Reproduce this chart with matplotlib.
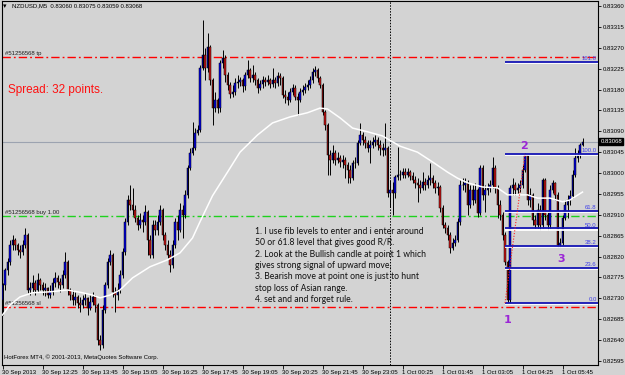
import matplotlib
matplotlib.use("Agg")
import matplotlib.pyplot as plt
import matplotlib.patheffects as pe
import numpy as np

# ---------------- data (prices in points, 1 point = 0.00001) ----------------
symbol_title = "NZDUSD,M5  0.83060 0.83075 0.83059 0.83068"
first_open_pts = 82726
last_open_pts = 83060

close_pts = [
    82759, 82791, 82808, 82845, 82856, 82845, 82834, 82830, 82845, 82867,
    82748, 82752, 82763, 82748, 82770, 82759, 82748, 82752, 82737, 82744,
    82763, 82774, 82765, 82759, 82780, 82808, 82748, 82737, 82726, 82733,
    82720, 82716, 82726, 82731, 82709, 82722, 82733, 82716, 82640, 82630,
    82705, 82759, 82808, 82823, 82744, 82737, 82748, 82780, 82830, 82895,
    82942, 82931, 82920, 82903, 82888, 82899, 82895, 82916, 82856, 82823,
    82888, 82877, 82895, 82920, 82867, 82845, 82823, 82802, 82845, 82895,
    82877, 82920, 82910, 82953, 83011, 83043, 83054, 83086, 83093, 83226,
    83254, 83226, 83272, 83201, 83140, 83157, 83140, 83237, 83248, 83211,
    83190, 83170, 83175, 83194, 83196, 83201, 83188, 83211, 83222, 83205,
    83211, 83201, 83183, 83192, 83201, 83196, 83201, 83192, 83201, 83194,
    83209, 83205, 83168, 83164, 83157, 83175, 83183, 83164, 83157, 83175,
    83179, 83186, 83190, 83201, 83218, 83222, 83205, 83190, 83132, 83104,
    83039, 83028, 83043, 83028, 83033, 83024, 83028, 83017, 83007, 82989,
    83022, 83022, 83065, 83082, 83071, 83065, 83054, 83061, 83067, 83071,
    83061, 83054, 83050, 83054, 82957, 82964, 82957, 82992, 82996, 82996,
    83002, 82996, 83002, 82994, 82985, 82979, 82974, 82968, 82981, 82974,
    82985, 82989, 82979, 82968, 82970, 82925, 82888, 82882, 82867, 82839,
    82849, 82856, 82895, 82974, 82974, 82979, 82931, 82964, 82942, 82964,
    82914, 83011, 82953, 82964, 82968, 82974, 83011, 82968, 82931, 82910,
    82867, 82808, 82726, 82968, 82974, 82964, 82968, 82974, 83007, 83039,
    82942, 82953, 82899, 82888, 82920, 82888, 82985, 82910, 82888, 82964,
    82979, 82953, 82845, 82849, 82903, 82931, 82942, 82951, 82996, 83033,
    83039, 83061, 83068]

high_pts = [
    82763, 82795, 82817, 82856, 82867, 82860, 82849, 82845, 82856, 82882,
    82871, 82765, 82780, 82770, 82785, 82774, 82765, 82763, 82755, 82759,
    82774, 82787, 82780, 82774, 82791, 82830, 82813, 82752, 82748, 82744,
    82737, 82733, 82737, 82742, 82733, 82737, 82744, 82737, 82720, 82651,
    82716, 82765, 82817, 82834, 82828, 82755, 82763, 82791, 82839, 82903,
    82953, 82974, 82968, 82931, 82910, 82914, 82910, 82931, 82920, 82867,
    82899, 82899, 82910, 82931, 82925, 82873, 82856, 82834, 82856, 82903,
    82910, 82936, 82931, 82964, 83017, 83054, 83110, 83097, 83104, 83233,
    83330, 83270, 83302, 83276, 83205, 83175, 83162, 83244, 83265, 83254,
    83218, 83196, 83190, 83205, 83211, 83207, 83205, 83218, 83244, 83226,
    83233, 83218, 83205, 83201, 83209, 83207, 83211, 83205, 83226, 83207,
    83218, 83216, 83209, 83179, 83175, 83183, 83192, 83190, 83173, 83183,
    83190, 83194, 83201, 83209, 83226, 83231, 83226, 83209, 83194, 83136,
    83108, 83050, 83061, 83050, 83045, 83039, 83039, 83035, 83024, 83017,
    83028, 83035, 83071, 83108, 83089, 83080, 83071, 83071, 83078, 83082,
    83078, 83071, 83065, 83108, 83058, 82985, 82981, 82996, 83056, 83007,
    83011, 83011, 83011, 83007, 83002, 82994, 82989, 82985, 83002, 82989,
    82996, 83022, 82996, 82985, 82981, 82974, 82931, 82895, 82888, 82873,
    82860, 82867, 82903, 82985, 82989, 82989, 82985, 82974, 82974, 82979,
    82968, 83017, 83017, 82974, 82979, 82985, 83035, 83017, 82974, 82942,
    82916, 82873, 82813, 82974, 82989, 82981, 82979, 82985, 83017, 83043,
    83039, 82968, 82957, 82910, 82936, 82931, 82989, 82989, 82916, 82974,
    82985, 82981, 82959, 82860, 82910, 82942, 82953, 82964, 83007, 83054,
    83050, 83065, 83075]

low_pts = [
    82694, 82748, 82780, 82802, 82834, 82834, 82823, 82817, 82823, 82839,
    82742, 82737, 82744, 82737, 82744, 82748, 82737, 82735, 82731, 82731,
    82737, 82755, 82752, 82744, 82752, 82774, 82737, 82726, 82716, 82716,
    82709, 82701, 82709, 82716, 82694, 82705, 82716, 82701, 82630, 82619,
    82623, 82698, 82752, 82802, 82733, 82701, 82726, 82742, 82774, 82823,
    82888, 82920, 82910, 82895, 82877, 82882, 82873, 82888, 82823, 82817,
    82817, 82867, 82867, 82888, 82856, 82834, 82817, 82787, 82795, 82839,
    82856, 82873, 82860, 82903, 82946, 83007, 83039, 83050, 83082, 83089,
    83222, 83201, 83218, 83190, 83104, 83132, 83130, 83132, 83226, 83196,
    83179, 83162, 83164, 83168, 83183, 83188, 83175, 83179, 83205, 83196,
    83196, 83190, 83173, 83179, 83183, 83188, 83190, 83183, 83186, 83183,
    83188, 83190, 83162, 83151, 83147, 83153, 83168, 83157, 83125, 83153,
    83168, 83173, 83179, 83183, 83194, 83209, 83196, 83183, 83125, 83093,
    82996, 82996, 83022, 83017, 83022, 83013, 83011, 82989, 82979, 82979,
    82985, 83011, 83017, 83061, 83061, 83054, 83045, 83022, 83054, 83058,
    83050, 83039, 83037, 83039, 82948, 82927, 82910, 82946, 82985, 82985,
    82989, 82989, 82992, 82985, 82979, 82968, 82938, 82957, 82964, 82964,
    82968, 82974, 82968, 82957, 82953, 82916, 82882, 82871, 82856, 82828,
    82834, 82843, 82851, 82888, 82964, 82959, 82910, 82925, 82931, 82936,
    82905, 82910, 82942, 82916, 82953, 82959, 82968, 82957, 82903, 82899,
    82856, 82802, 82720, 82720, 82953, 82953, 82957, 82959, 82968, 83002,
    82931, 82927, 82888, 82882, 82882, 82877, 82882, 82899, 82877, 82882,
    82957, 82942, 82841, 82841, 82845, 82899, 82903, 82931, 82946, 82992,
    83024, 83032, 83059]

# moving average (white line), read at selected bars
ma_bars = [0, 3, 7, 12, 19, 26, 32, 36, 39, 43, 47, 52, 59, 66, 71, 76, 79, 84,
           90, 95, 102, 108, 115, 122, 127, 130, 135, 140, 146, 152, 159, 166,
           172, 178, 182, 186, 192, 198, 202, 206, 210, 214, 219, 224, 227, 232]
ma_pts = [82694, 82716, 82733, 82742, 82744, 82748, 82742, 82737, 82731, 82737,
          82748, 82774, 82798, 82813, 82828, 82860, 82895, 82951, 83002, 83045,
          83082, 83108, 83121, 83130, 83140, 83138, 83119, 83097, 83089, 83080,
          83058, 83045, 83024, 83002, 82989, 82979, 82970, 82968, 82953, 82953,
          82953, 82946, 82946, 82938, 82942, 82959]

time_tick_bars = [0, 16, 32, 48, 64, 80, 96, 112, 128, 144, 160, 176, 192, 208, 224]
time_tick_labels = ["30 Sep 2013", "30 Sep 12:25", "30 Sep 13:45", "30 Sep 15:05",
                    "30 Sep 16:25", "30 Sep 17:45", "30 Sep 19:05", "30 Sep 20:25",
                    "30 Sep 21:45", "30 Sep 23:05", "1 Oct 00:25", "1 Oct 01:45",
                    "1 Oct 03:05", "1 Oct 04:25", "1 Oct 05:45"]
day_separator_bar = 155          # 1 Oct 00:00
price_ticks = [0.82595 + 0.00045 * k for k in range(18)]

order_tp = 0.83250
order_buy = 0.82907
order_sl = 0.82711
fib_low = 0.82720
fib_high = 0.83041
fib_start_bar = 201
fib_end_bar = 209
fib_levels = [0.0, 23.6, 38.2, 50.0, 61.8, 100.0, 161.8]
point_labels = ["1", "2", "3"]
point_bars = [202.2, 208.6, 223.4]
point_prices = [0.82683, 0.83058, 0.82815]

note_text = ("1. I use fib levels to enter and i enter around\n"
             "50 or 61.8 level that gives good R/R.\n"
             "2. Look at the Bullish candle at point 1 which\n"
             "gives strong signal of upward move.\n"
             "3. Bearish move at point one is just to hunt\n"
             "stop loss of Asian range.\n"
             "4. set and and forget rule.")

# ---------------- derived ----------------
close = np.array(close_pts) / 1e5
high = np.array(high_pts) / 1e5
low = np.array(low_pts) / 1e5
opens = np.concatenate([[first_open_pts / 1e5], close[:-1]])
opens[-1] = last_open_pts / 1e5
high = np.maximum(high, np.maximum(opens, close))
low = np.minimum(low, np.minimum(opens, close))
x = np.arange(len(close))
bid = close[-1]

BG = "#D3D3D3"
W, H = 625, 375
fig = plt.figure(figsize=(W / 100, H / 100), dpi=100, facecolor=BG)
# axes box in pixels: left 2, right 598, top 0.5, bottom 365
ax = fig.add_axes([2 / W, 10 / H, 596 / W, 364.5 / H], facecolor=BG)
ax.set_xlim(-0.2, 238.2)
ax.set_ylim(0.825863, 0.833719)

SMALL = "Liberation Sans"
SFS = 4.3

# order lines
dashdot = (0, (6, 2.2, 1.3, 2.2))
ax.axhline(order_tp, color="#FF0000", lw=1.0, ls=dashdot, zorder=1)
ax.axhline(order_sl, color="#FF0000", lw=1.0, ls=dashdot, zorder=1)
ax.axhline(order_buy, color="#1ED21E", lw=1.0, ls=dashdot, zorder=1)
ax.axhline(bid, color="#9CA3B0", lw=0.8, zorder=1)
ax.axvline(day_separator_bar, color="black", lw=0.7, ls=(0, (1.5, 1.5)), zorder=1)

for price, lab in [(order_tp, "#51256568 tp"), (order_buy, "#51256568 buy 1.00"),
                   (order_sl, "#51256568 sl")]:
    ax.text(1.0, price + 0.00002, lab, fontsize=SFS, family=SMALL, color="#202020",
            va="bottom", ha="left", zorder=2)

# candles
up = close >= opens
ax.vlines(x, low, high, color="black", lw=0.7, zorder=3)
body_bottom = np.minimum(opens, close)
body_h = np.abs(close - opens)
ax.bar(x[up], body_h[up], bottom=body_bottom[up], width=0.75, color="#0000E0",
       edgecolor="black", linewidth=0.35, zorder=4)
ax.bar(x[~up], body_h[~up], bottom=body_bottom[~up], width=0.75, color="#C81414",
       edgecolor="black", linewidth=0.35, zorder=4)

# moving average
ax.plot(np.array(ma_bars), np.array(ma_pts) / 1e5, color="white", lw=1.1, zorder=5)

# fibonacci
rng = fib_high - fib_low
for lvl in fib_levels:
    p = fib_low + rng * lvl / 100.0
    ax.hlines(p, fib_start_bar, 238.2, color="#1414B4", lw=1.3, zorder=6,
              path_effects=[pe.SimpleLineShadow(offset=(0, -0.9), shadow_color="white",
                                                alpha=1.0), pe.Normal()])
    ax.text(237.7, p + 0.00002, f"{lvl:.1f}", fontsize=SFS, family=SMALL,
            color="#4040E8", ha="right", va="bottom", zorder=7)
ax.plot([fib_start_bar, fib_end_bar], [fib_low, fib_high], color="#FF2020",
        lw=0.8, ls=(0, (1, 1.5)), zorder=6)

for lab, bx, py in zip(point_labels, point_bars, point_prices):
    ax.text(bx, py, lab, fontsize=8, fontweight="bold", color="#9B26D6",
            ha="center", va="center", family="DejaVu Sans", zorder=8)

# axes styling
for s in ax.spines.values():
    s.set_color("black")
    s.set_linewidth(0.8)
ax.yaxis.tick_right()
ax.set_yticks(price_ticks)
ax.set_yticklabels([f"{v:.5f}" for v in price_ticks])
ax.tick_params(axis="y", right=True, left=False, length=2.5, width=0.6, pad=1.2,
               labelsize=SFS, colors="black")
ax.set_xticks(time_tick_bars)
ax.set_xticklabels(time_tick_labels)
ax.tick_params(axis="x", length=3, width=0.6, pad=0.3, labelsize=SFS)
for t in ax.get_xticklabels() + ax.get_yticklabels():
    t.set_family(SMALL)
for t in ax.get_xticklabels():
    t.set_ha("left")

# current price tag
ax.text(1.004, bid, f"{bid:.5f}", transform=ax.get_yaxis_transform(), fontsize=SFS,
        family=SMALL, color="white", va="center", ha="left",
        bbox=dict(boxstyle="square,pad=0.2", fc="black", ec="black"), zorder=10,
        clip_on=False)

# texts
fig.text(3 / W, 1 - 6 / H, "\u25be", fontsize=5, color="black", va="center")
fig.text(12 / W, 1 - 6 / H, symbol_title, fontsize=SFS, family=SMALL, va="center")
fig.text(8 / W, 1 - 90 / H, "Spread: 32 points.", fontsize=8.5, color="#FF1010",
         family="Liberation Sans", va="center")
fig.text(255 / W, 1 - 227 / H, note_text, fontsize=6.2, family="Lato",
         va="top", ha="left", linespacing=1.33, color="#101010")
fig.text(4 / W, 1 - 357 / H, "HotForex MT4, \u00a9 2001-2013, MetaQuotes Software Corp.",
         fontsize=SFS, family=SMALL, va="center")

fig.savefig("out.png", dpi=100, facecolor=BG)
